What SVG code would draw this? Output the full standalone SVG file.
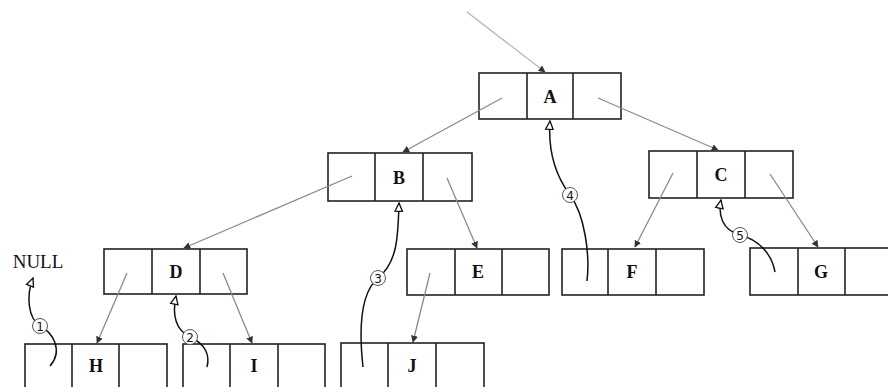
<svg xmlns="http://www.w3.org/2000/svg" width="888" height="387" viewBox="0 0 888 387">
<style>
.box{fill:#fff;stroke:#222;stroke-width:1.6}
.div{stroke:#222;stroke-width:1.6}
.lbl{font-family:"Liberation Serif",serif;font-size:18px;font-weight:bold;fill:#111;text-anchor:middle}
.link{fill:none;stroke:#8a8a8a;stroke-width:1.3;marker-end:url(#fa)}
.thr{fill:none;stroke:#111;stroke-width:1.5;marker-end:url(#oa)}
.num{fill:#fff;stroke:#555;stroke-width:1}
.nt{font-family:"DejaVu Sans","Noto Sans",sans-serif;font-size:12px;fill:#111;text-anchor:middle}
</style>
<defs>
<marker id="fa" viewBox="0 0 10 10" refX="9" refY="5" markerWidth="7" markerHeight="7" markerUnits="userSpaceOnUse" orient="auto"><path d="M0,0 L10,5 L0,10 z" fill="#333"/></marker>
<marker id="oa" viewBox="0 0 12 12" refX="11" refY="6" markerWidth="10" markerHeight="10" markerUnits="userSpaceOnUse" orient="auto"><path d="M1,1.5 L11,6 L1,10.5 z" fill="#fff" stroke="#111" stroke-width="1.6"/></marker>
</defs>
<rect width="888" height="387" fill="#fff"/>

<g id="null"><text class="lbl" x="38" y="268" style="font-weight:normal;font-size:19px">NULL</text></g>

<g id="A"><rect class="box" x="479" y="73" width="142" height="46"/><line class="div" x1="527" y1="73" x2="527" y2="119"/><line class="div" x1="573" y1="73" x2="573" y2="119"/><text class="lbl" x="550" y="103">A</text></g>
<g id="B"><rect class="box" x="328" y="153" width="144" height="48"/><line class="div" x1="375" y1="153" x2="375" y2="201"/><line class="div" x1="423" y1="153" x2="423" y2="201"/><text class="lbl" x="399" y="184">B</text></g>
<g id="C"><rect class="box" x="649" y="151" width="144" height="47"/><line class="div" x1="697" y1="151" x2="697" y2="198"/><line class="div" x1="745" y1="151" x2="745" y2="198"/><text class="lbl" x="721" y="181">C</text></g>
<g id="D"><rect class="box" x="104" y="249" width="143" height="45"/><line class="div" x1="152" y1="249" x2="152" y2="294"/><line class="div" x1="200" y1="249" x2="200" y2="294"/><text class="lbl" x="176" y="278">D</text></g>
<g id="E"><rect class="box" x="407" y="249" width="142" height="46"/><line class="div" x1="455" y1="249" x2="455" y2="295"/><line class="div" x1="502" y1="249" x2="502" y2="295"/><text class="lbl" x="478" y="278">E</text></g>
<g id="F"><rect class="box" x="562" y="249" width="142" height="46"/><line class="div" x1="608" y1="249" x2="608" y2="295"/><line class="div" x1="656" y1="249" x2="656" y2="295"/><text class="lbl" x="632" y="278">F</text></g>
<g id="G"><rect class="box" x="750" y="248" width="142" height="47"/><line class="div" x1="798" y1="248" x2="798" y2="295"/><line class="div" x1="845" y1="248" x2="845" y2="295"/><text class="lbl" x="821" y="278">G</text></g>
<g id="H"><rect class="box" x="25" y="344" width="142" height="48"/><line class="div" x1="72" y1="344" x2="72" y2="392"/><line class="div" x1="119" y1="344" x2="119" y2="392"/><text class="lbl" x="96" y="372">H</text></g>
<g id="I"><rect class="box" x="183" y="344" width="142" height="48"/><line class="div" x1="230" y1="344" x2="230" y2="392"/><line class="div" x1="278" y1="344" x2="278" y2="392"/><text class="lbl" x="254" y="372">I</text></g>
<g id="J"><rect class="box" x="341" y="343" width="143" height="49"/><line class="div" x1="388" y1="343" x2="388" y2="392"/><line class="div" x1="436" y1="343" x2="436" y2="392"/><text class="lbl" x="412" y="372">J</text></g>

<g id="connectors">
<line class="link" x1="467" y1="12" x2="545" y2="72" style="stroke:#b5b5b5"/>
<line class="link" x1="502" y1="98" x2="403" y2="152"/>
<line class="link" x1="598" y1="98" x2="718" y2="150"/>
<line class="link" x1="352" y1="176" x2="184" y2="248"/>
<line class="link" x1="447" y1="178" x2="477" y2="248"/>
<line class="link" x1="673" y1="173" x2="635" y2="247"/>
<line class="link" x1="770" y1="174" x2="818" y2="247"/>
<line class="link" x1="127" y1="273" x2="97" y2="343"/>
<line class="link" x1="223" y1="273" x2="252" y2="343"/>
<line class="link" x1="430" y1="273" x2="413" y2="342"/>
<path class="thr" d="M50,366 C64,350 52,332 40,326 C28,318 26,296 33,278"/>
<path class="thr" d="M207,367 C210,356 206,344 190,337 C176,330 172,315 176,296"/>
<path class="thr" d="M363,367 C360,340 358,295 378,278 C398,262 398,235 399,203"/>
<path class="thr" d="M587,281 C590,255 585,215 570,195 C555,175 548,150 550,121"/>
<path class="thr" d="M775,272 C772,255 760,240 740,235 C722,230 718,215 721,200"/>
<circle class="num" cx="40" cy="326" r="7.5"/><text class="nt" x="40" y="330.5">1</text>
<circle class="num" cx="190" cy="337" r="7.5"/><text class="nt" x="190" y="341.5">2</text>
<circle class="num" cx="378" cy="278" r="7.5"/><text class="nt" x="378" y="282.5">3</text>
<circle class="num" cx="570" cy="195" r="7.5"/><text class="nt" x="570" y="199.5">4</text>
<circle class="num" cx="740" cy="235" r="7.5"/><text class="nt" x="740" y="239.5">5</text>
</g>
</svg>
